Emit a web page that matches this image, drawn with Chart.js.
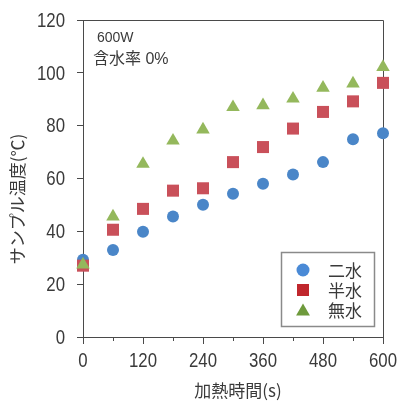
<!DOCTYPE html>
<html>
<head>
<meta charset="utf-8">
<script src="https://cdn.jsdelivr.net/npm/chart.js@4/dist/chart.umd.min.js"></script>
<style>
  html, body { margin: 0; padding: 0; background: #fff; }
  #c { display: block; }
</style>
</head>
<body>
<canvas id="c" width="399" height="403"></canvas>
<script>
// heating time (s)
const times = [0, 60, 120, 180, 240, 300, 360, 420, 480, 540, 600];
// sample temperature (°C) per sample type
const niSui  = [29.2, 32.9, 39.8, 45.6, 50.1, 54.2, 58.0, 61.5, 66.2, 74.9, 77.1];
const hanSui = [27.0, 40.6, 48.5, 55.4, 56.3, 66.2, 71.9, 78.9, 85.2, 89.2, 96.2];
const muSui  = [27.4, 45.6, 65.5, 74.3, 78.5, 87.0, 87.7, 90.2, 94.3, 95.9, 102.2];

const seriesNames = ['二水', '半水', '無水'];
const xTicks = [0, 120, 240, 360, 480, 600];
const xMinorTicks = [60, 180, 300, 420, 540];
const yTicks = [0, 20, 40, 60, 80, 100, 120];

const xTitle = '加熱時間(s)';
const yTitle = 'サンプル温度(℃)';
const noteLines = ['600W', '含水率 0%'];

const AXIS = '#4a4a4a';
const TEXT = '#3a3a3a';
const NUM_FONT = "21px 'Liberation Sans', Arial, sans-serif";
const JP_FONT = "'Liberation Sans', 'Noto Sans CJK JP', sans-serif";

const styles = [
  { point: 'circle',   radius: 6,   fill: '#4a86c8', legendFill: '#4a8ad6', legendRadius: 6.5 },
  { point: 'rect',     radius: 8.5, fill: '#c9505a', legendFill: '#c0272d', legendRadius: 8.5 },
  { point: 'triangle', radius: 7.8, fill: '#94b85c', legendFill: '#6e9a3c', legendRadius: 8 }
];

function toPoints(ys) { return times.map((t, i) => ({ x: t, y: ys[i] })); }

// later series are painted over earlier ones
const datasets = [niSui, hanSui, muSui].map((ys, k) => ({
  label: seriesNames[k],
  data: toPoints(ys),
  order: 2 - k,
  clip: false,
  pointStyle: styles[k].point,
  pointRadius: styles[k].radius,
  pointHoverRadius: styles[k].radius,
  backgroundColor: styles[k].fill,
  borderColor: styles[k].fill,
  borderWidth: 0,
  showLine: false
}));

// condensed numeric label: drawn with a horizontal squeeze
function narrowText(ctx, text, x, y, align) {
  ctx.save();
  ctx.translate(x, y);
  ctx.scale(0.8, 1);
  ctx.textAlign = align;
  ctx.fillText(text, 0, 0);
  ctx.restore();
}

const decorations = {
  id: 'decorations',
  beforeDatasetsDraw(chart) {
    const ctx = chart.ctx;
    const a = chart.chartArea;
    const xs = chart.scales.x;
    const ys = chart.scales.y;
    ctx.save();

    // frame: top and right edges
    ctx.strokeStyle = AXIS;
    ctx.lineWidth = 1;
    ctx.beginPath();
    ctx.moveTo(a.left, Math.round(a.top) + 0.5);
    ctx.lineTo(Math.round(a.right) + 0.5, Math.round(a.top) + 0.5);
    ctx.lineTo(Math.round(a.right) + 0.5, a.bottom);
    ctx.stroke();

    // minor ticks on the time axis
    ctx.beginPath();
    xMinorTicks.forEach(v => {
      const px = Math.round(xs.getPixelForValue(v)) + 0.5;
      ctx.moveTo(px, a.bottom);
      ctx.lineTo(px, a.bottom + 4);
    });
    ctx.stroke();

    // tick labels
    ctx.fillStyle = TEXT;
    ctx.font = NUM_FONT;
    ctx.textBaseline = 'middle';
    yTicks.forEach(v => narrowText(ctx, String(v), 65, ys.getPixelForValue(v) + 1, 'right'));
    xTicks.forEach(v => narrowText(ctx, String(v), xs.getPixelForValue(v), 361, 'center'));

    // axis titles
    ctx.font = "17px 'Noto Sans CJK JP', sans-serif";
    ctx.textAlign = 'center';
    ctx.textBaseline = 'middle';
    ctx.fillText(xTitle, (a.left + a.right) / 2 + 5, 391);
    ctx.save();
    ctx.translate(18, 199);
    ctx.rotate(-Math.PI / 2);
    ctx.fillText(yTitle, 0, 0);
    ctx.restore();

    // condition note
    ctx.textAlign = 'left';
    ctx.textBaseline = 'alphabetic';
    ctx.font = "14px " + JP_FONT;
    ctx.fillText(noteLines[0], 97, 42);
    ctx.font = "16px " + JP_FONT;
    ctx.fillText(noteLines[1], 93, 64);

    ctx.restore();
  },
  afterDraw(chart) {
    const ctx = chart.ctx;
    ctx.save();
    // legend box
    const box = { x: 281.5, y: 252.5, w: 93, h: 74 };
    ctx.fillStyle = '#fff';
    ctx.fillRect(box.x, box.y, box.w, box.h);
    ctx.strokeStyle = '#8a8a8a';
    ctx.lineWidth = 1.5;
    ctx.strokeRect(box.x, box.y, box.w, box.h);
    const rows = [270, 290, 309.5];
    ctx.font = "17px 'Noto Sans CJK JP', sans-serif";
    ctx.textAlign = 'left';
    ctx.textBaseline = 'middle';
    seriesNames.forEach((name, k) => {
      ctx.fillStyle = styles[k].legendFill;
      Chart.helpers.drawPoint(ctx, {
        pointStyle: styles[k].point,
        radius: styles[k].legendRadius,
        rotation: 0,
        borderWidth: 0
      }, 303, rows[k] + (styles[k].point === 'triangle' ? 2 : 0));
      ctx.fillStyle = TEXT;
      ctx.fillText(name, 328, rows[k] + 1);
    });
    ctx.restore();
  }
};

new Chart(document.getElementById('c'), {
  type: 'scatter',
  data: { datasets },
  options: {
    responsive: false,
    animation: false,
    devicePixelRatio: 1,
    layout: { padding: { top: 20, right: 16, left: 0, bottom: 0 } },
    plugins: { legend: { display: false }, tooltip: { enabled: false } },
    scales: {
      x: {
        type: 'linear',
        min: 0, max: 600,
        afterBuildTicks: s => { s.ticks = xTicks.map(v => ({ value: v })); },
        afterFit: s => { s.height = 66; },
        grid: { drawOnChartArea: false, drawTicks: true, tickLength: 7, tickColor: AXIS, color: AXIS },
        border: { display: true, color: AXIS, width: 1 },
        ticks: { display: false }
      },
      y: {
        type: 'linear',
        min: 0, max: 120,
        afterBuildTicks: s => { s.ticks = yTicks.map(v => ({ value: v })); },
        afterFit: s => { s.width = 83; },
        grid: { drawOnChartArea: false, drawTicks: true, tickLength: 6, tickColor: AXIS, color: AXIS },
        border: { display: true, color: AXIS, width: 1 },
        ticks: { display: false }
      }
    }
  },
  plugins: [decorations]
});
</script>
</body>
</html>
